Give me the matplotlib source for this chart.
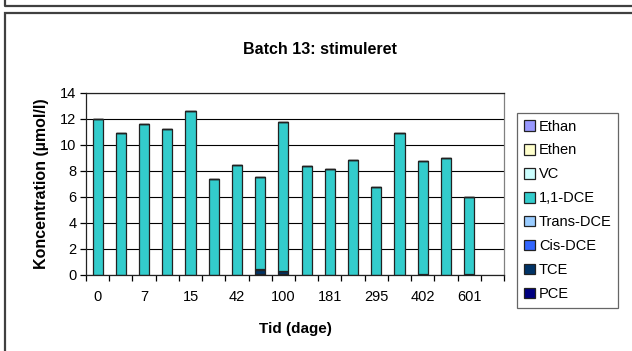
import matplotlib
matplotlib.use("Agg")
import matplotlib.pyplot as plt
from matplotlib.patches import Rectangle
from matplotlib.lines import Line2D
import numpy as np

plt.rcParams['font.family'] = ['Liberation Sans', 'DejaVu Sans']

# Category labels (only every other label is shown in the original; the last slot is empty)
tick_labels = ["0", "", "7", "", "15", "", "42", "", "100", "", "181", "", "295", "", "402", "", "601", ""]

# Series values (µmol/l), one per sampled category (the last, empty slot has no data)
pce       = [0, 0, 0, 0, 0, 0, 0, 0.05, 0.05, 0, 0, 0, 0, 0, 0.03, 0, 0.03]
tce       = [0.03, 0.03, 0.03, 0.03, 0.03, 0, 0.03, 0.30, 0.22, 0, 0, 0.03, 0, 0, 0.08, 0, 0.05]
cis_dce   = [0, 0, 0, 0, 0, 0, 0, 0.08, 0, 0, 0, 0, 0, 0, 0, 0, 0]
trans_dce = [0, 0, 0, 0, 0, 0, 0, 0, 0, 0, 0, 0, 0, 0, 0, 0, 0]
dce11     = [11.97, 10.92, 11.62, 11.17, 12.62, 7.35, 8.47, 7.14, 11.53, 8.40, 8.18, 8.82, 6.80, 10.90, 8.64, 9.02, 5.89]
vc        = [0] * 17
ethen     = [0] * 17
ethan     = [0] * 17

series = [
    ("PCE", pce, "#000080"),
    ("TCE", tce, "#003366"),
    ("Cis-DCE", cis_dce, "#3366FF"),
    ("Trans-DCE", trans_dce, "#99CCFF"),
    ("1,1-DCE", dce11, "#33CCCC"),
    ("VC", vc, "#CCFFFF"),
    ("Ethen", ethen, "#FFFFCC"),
    ("Ethan", ethan, "#9999FF"),
]

W, H = 632, 351
fig = plt.figure(figsize=(W / 100, H / 100), dpi=100)

# outer frames
fig.add_artist(Line2D([5 / W, 5 / W, 1], [1, 1 - 6 / H, 1 - 6 / H], transform=fig.transFigure,
                      color="#404040", lw=1.6))
fig.add_artist(Rectangle((5 / W, -0.05), 0.995 - 5 / W + 0.01, 1 - 13 / H + 0.05, transform=fig.transFigure,
                         fill=False, edgecolor="#404040", lw=1.6))

ax = fig.add_axes([86 / W, 1 - 275 / H, (504 - 86) / W, (275 - 93) / H])

ncat = len(tick_labels)
x = np.arange(ncat)
xd = x[:len(dce11)]
bottom = np.zeros(len(xd))
handles = []
for name, vals, col in series:
    v = np.array(vals, dtype=float)
    bars = ax.bar(xd, v, width=0.44, bottom=bottom, color=col, edgecolor="#222222", linewidth=0.9,
                  label=name)
    bottom += v
    handles.append(bars)

ax.set_xlim(-0.5, ncat - 0.5)
ax.set_ylim(0, 14)
ax.set_yticks(np.arange(0, 15, 2))
ax.yaxis.grid(True, color="black", lw=0.8)
ax.set_axisbelow(True)
for s in ax.spines.values():
    s.set_color("#222222")
    s.set_linewidth(0.9)
ax.spines['right'].set_color("#808080")

# ticks between categories, labels centered
ax.set_xticks(np.arange(-0.5, ncat), minor=False)
ax.set_xticklabels([])
ax.set_xticks(x, minor=True)
ax.set_xticklabels(tick_labels, minor=True, fontsize=10.5)
ax.tick_params(axis='x', which='minor', length=0, pad=11)
ax.tick_params(axis='x', which='major', length=4, direction='out', width=0.9)
ax.tick_params(axis='y', length=4, width=0.9, labelsize=10.5, pad=3)

ax.set_xlabel("Tid (dage)", fontsize=11, fontweight='bold', labelpad=13)
ax.set_ylabel("Koncentration (µmol/l)", fontsize=11.5, fontweight='bold', labelpad=8)
fig.text(320 / W, 1 - 50 / H, "Batch 13: stimuleret", ha='center', va='center', fontsize=11.5, fontweight='bold')

leg = fig.legend(handles[::-1], [s[0] for s in series][::-1], loc='upper left',
                 bbox_to_anchor=(517 / W, 1 - 113 / H), fontsize=10.5, frameon=True, fancybox=False,
                 handlelength=0.75, handleheight=0.75, handletextpad=0.3, labelspacing=0.68,
                 borderpad=0.45, borderaxespad=0)
leg.get_frame().set_edgecolor("#404040")
leg.get_frame().set_linewidth(0.9)

fig.savefig("out.png", dpi=100)
